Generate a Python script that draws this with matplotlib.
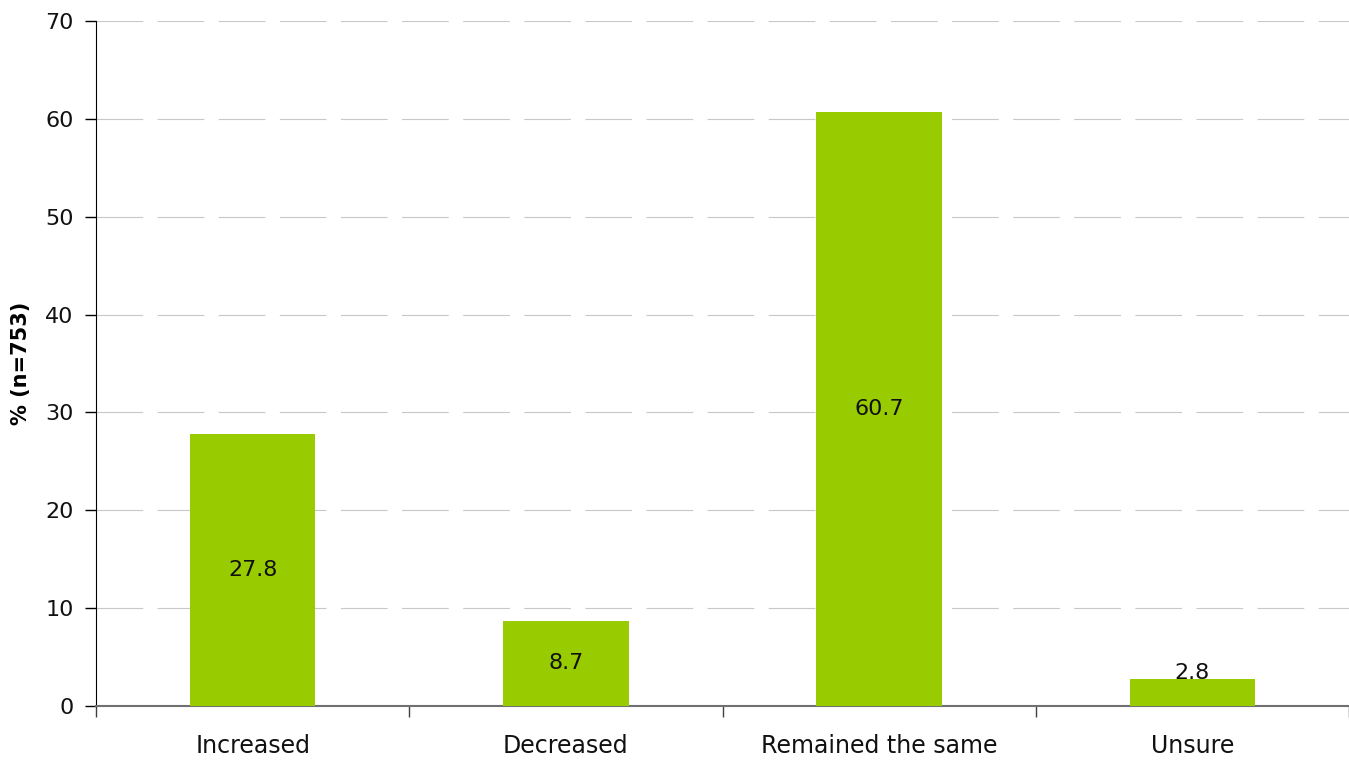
import matplotlib
matplotlib.use('Agg')
import matplotlib.pyplot as plt

categories = ['Increased', 'Decreased', 'Remained the same', 'Unsure']
values = [27.8, 8.7, 60.7, 2.8]
y_ticks = [0, 10, 20, 30, 40, 50, 60, 70]

BAR_COLOR = '#99CC00'
GRID_COLOR = '#C8C8C8'
FONT = 'DejaVu Sans'

plt.rcParams['font.family'] = [FONT]

fig = plt.figure(figsize=(13.49, 7.63), dpi=100)
ax = fig.add_axes([96 / 1349, 1 - 706 / 763, 1253 / 1349, 685 / 763])

x = list(range(len(categories)))
ax.bar(x, values, width=0.4, color=BAR_COLOR, zorder=3)

for xi, v in zip(x, values):
    ax.text(xi, max(v / 2, 3.4), f'{v:.1f}', ha='center', va='center',
            fontsize=16, color='#111111', zorder=4)

ax.set_xlim(-0.5, len(categories) - 0.5)
ax.set_ylim(0, 70)
ax.set_yticks(y_ticks)
ax.set_yticklabels([str(t) for t in y_ticks], fontsize=16, color='#111111')

# category labels sit between the boundary ticks
ax.set_xticks([i - 0.5 for i in range(len(categories) + 1)])
ax.set_xticklabels([])
ax.set_xticks(x, minor=True)
ax.set_xticklabels(categories, minor=True, fontsize=17, color='#111111')
ax.tick_params(axis='x', which='minor', length=0, pad=20)
ax.tick_params(axis='x', which='major', length=8, width=1, color='#404040', direction='out')
ax.tick_params(axis='y', length=8, width=1, direction='out', pad=8)

for t in y_ticks[1:]:
    ax.axhline(t, color=GRID_COLOR, linewidth=0.8, dashes=(42, 13), zorder=1)

ax.spines['top'].set_visible(False)
ax.spines['right'].set_visible(False)
ax.spines['left'].set_color('black')
ax.spines['bottom'].set_color('#707070')
ax.spines['bottom'].set_linewidth(1.5)

ax.set_ylabel('% (n=753)', fontsize=15, fontweight='bold', labelpad=10)

fig.savefig('out.png', dpi=100)
